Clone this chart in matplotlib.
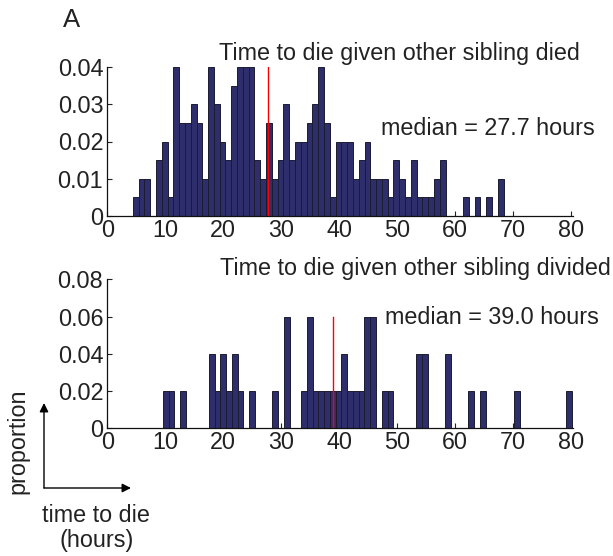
import numpy as np
import matplotlib
matplotlib.use("Agg")
from matplotlib import pyplot as plt
from matplotlib.patches import FancyArrowPatch

plt.rcParams['font.family'] = ['Liberation Sans', 'DejaVu Sans']

W, H = 613, 556
FS = 16.8
TXT = '#222222'
BAR_FACE = '#2e2e6c'
BAR_EDGE = '#1c1c30'

# sibling died: 1 h bins starting at 4.4 h
died_edge0 = 4.4
died_width = 1.0
died_prop = [0.005, 0.01, 0.01, 0, 0.015, 0.02, 0.005, 0.04, 0.025, 0.025,
             0.03, 0.025, 0.01, 0.04, 0.03, 0.02, 0.015, 0.035, 0.04, 0.04,
             0.04, 0.015, 0.01, 0.025, 0.01, 0.015, 0.03, 0.015, 0.02, 0.02,
             0.025, 0.03, 0.04, 0.025, 0.005, 0.02, 0.02, 0.02, 0.01, 0.015,
             0.02, 0.01, 0.01, 0.01, 0.005, 0.015, 0.01, 0.005, 0.015, 0.005,
             0.005, 0.005, 0.01, 0.015, 0, 0, 0, 0.005, 0, 0.005,
             0, 0.005, 0, 0.01]
died_median = 27.7

# sibling divided: bins starting at 9.57 h
div_edge0 = 9.57
div_width = 0.995
div_prop = [0.02, 0.02, 0, 0.02, 0, 0, 0, 0, 0.04, 0.02,
            0.04, 0.02, 0.04, 0.02, 0, 0.02, 0, 0, 0, 0.02,
            0, 0.06, 0, 0, 0.02, 0.06, 0.02, 0.02, 0.02, 0.02,
            0.02, 0.04, 0.02, 0.02, 0.02, 0.06, 0.06, 0, 0.02, 0.02,
            0, 0, 0, 0, 0.04, 0.04, 0, 0, 0, 0.04,
            0, 0, 0, 0.02, 0, 0.02, 0, 0, 0, 0,
            0, 0.02, 0, 0, 0, 0, 0, 0, 0, 0,
            0.02]
div_median = 39.0

xticks = [0, 10, 20, 30, 40, 50, 60, 70, 80]


def px(x, y):
    # pixel position (from top-left) to figure fraction
    return x / W, 1 - y / H


def draw_hist(ax, edge0, width, prop, median, ymax, yticks, yticklabels):
    prop = np.array(prop)
    lefts = edge0 + width * np.arange(len(prop))
    keep = prop > 0
    ax.bar(lefts[keep], prop[keep], width=width, align='edge',
           color=BAR_FACE, edgecolor=BAR_EDGE, linewidth=0.7, zorder=2)
    ax.plot([median, median], [0, prop.max()], color='red', lw=1.0, zorder=3)
    ax.set_xlim(0, 80.3)
    ax.set_ylim(0, ymax)
    ax.set_xticks(xticks)
    ax.set_xticklabels([str(t) for t in xticks])
    ax.set_yticks(yticks)
    ax.set_yticklabels(yticklabels)
    for s in ['top', 'right']:
        ax.spines[s].set_visible(False)
    for s in ['left', 'bottom']:
        ax.spines[s].set_linewidth(0.9)
        ax.spines[s].set_color('#111111')
    ax.tick_params(direction='in', length=3.5, width=0.8, labelsize=FS,
                   colors=TXT, pad=3)
    ax.tick_params(axis='x', pad=2)


fig = plt.figure(figsize=(W / 100, H / 100), dpi=100)

ax1 = fig.add_axes([107.3 / W, 1 - 216 / H, 465.2 / W, 149 / H])
draw_hist(ax1, died_edge0, died_width, died_prop, died_median, 0.04,
          [0, 0.01, 0.02, 0.03, 0.04], ['0', '0.01', '0.02', '0.03', '0.04'])

ax2 = fig.add_axes([107.3 / W, 1 - 428.3 / H, 465.2 / W, 149 / H])
draw_hist(ax2, div_edge0, div_width, div_prop, div_median, 0.08,
          [0, 0.02, 0.04, 0.06, 0.08], ['0', '0.02', '0.04', '0.06', '0.08'])

fig.text(*px(62.7, 27), 'A', fontsize=18.5, color=TXT, va='baseline')
fig.text(*px(399, 60), 'Time to die given other sibling died',
         fontsize=FS, color=TXT, ha='center', va='baseline')
fig.text(*px(381, 135), 'median = %.1f hours' % died_median,
         fontsize=FS, color=TXT, va='baseline')
fig.text(*px(415, 275), 'Time to die given other sibling divided',
         fontsize=FS, color=TXT, ha='center', va='baseline')
fig.text(*px(385, 324.3), 'median = %.1f hours' % div_median,
         fontsize=FS, color=TXT, va='baseline')

# axis key in the lower left corner
for end in [(44, 403), (131, 488)]:
    arr = FancyArrowPatch(px(44, 488), px(*end), transform=fig.transFigure,
                          arrowstyle='-|>', mutation_scale=13, lw=1.0,
                          color='black', shrinkA=0, shrinkB=0)
    fig.patches.append(arr)
fig.text(*px(18, 441), 'proportion', fontsize=FS, color=TXT,
         rotation=90, ha='center', va='center')
fig.text(*px(96, 515), 'time to die', fontsize=FS, color=TXT,
         ha='center', va='center')
fig.text(*px(97, 540), '(hours)', fontsize=FS, color=TXT,
         ha='center', va='center')

fig.savefig('out.png', dpi=100)
